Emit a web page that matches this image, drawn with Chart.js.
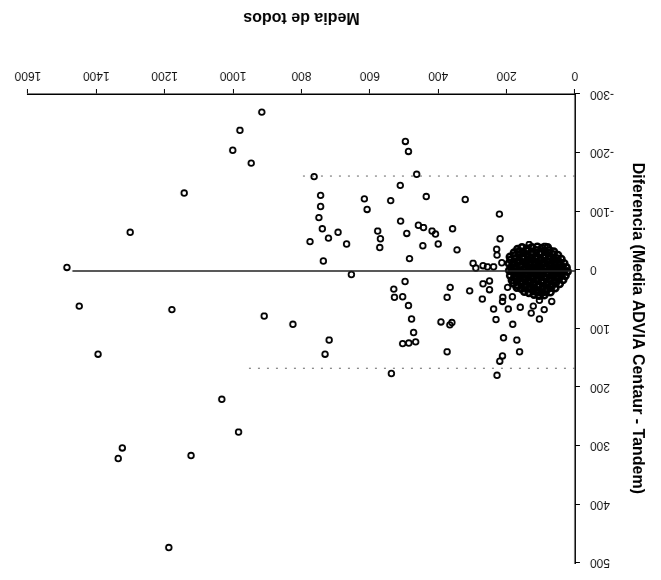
<!DOCTYPE html>
<html>
<head>
<meta charset="utf-8">
<script src="https://cdn.jsdelivr.net/npm/chart.js@4.4.1/dist/chart.umd.min.js"></script>
<style>
  body { margin: 0; background: #fff; }
  #wrap { width: 661px; height: 580px; transform: rotate(180deg); }
</style>
</head>
<body>
<div id="wrap"><canvas id="chart" width="661" height="580"></canvas></div>
<script>
// la imagen original está escaneada al revés: se dibuja normal y se gira 180°
const xTicks = [0, 200, 400, 600, 800, 1000, 1200, 1400, 1600];
const yTicks = [-300, -200, -100, 0, 100, 200, 300, 400, 500];

// puntos dispersos [media de todos, diferencia]
const puntosSueltos = [
    [916, -269], [980, -238], [1001, -204], [947, -182], [763, -159], [1143, -131],
    [744, -127], [744, -108], [749, -89], [739, -70], [721, -54], [775, -48],
    [1301, -64], [736, -15], [1486, -4], [1450, 62], [1179, 68], [909, 79],
    [825, 93], [719, 120], [731, 144], [1395, 144], [1033, 221], [984, 277],
    [1324, 304], [1336, 322], [1123, 317], [1188, 474],
    [496, -219], [487, -202], [463, -163], [511, -144], [616, -121], [435, -125],
    [539, -118], [321, -120], [608, -103], [221, -95], [510, -83], [458, -76],
    [443, -72], [693, -64], [577, -66], [569, -53], [492, -62], [418, -66],
    [408, -61], [358, -70], [219, -53], [668, -44], [571, -38], [445, -41],
    [400, -44], [345, -34], [229, -35], [228, -25], [484, -19], [298, -11],
    [290, -3], [269, -7], [256, -5], [238, -5], [214, -12], [654, 8],
    [497, 20], [530, 33], [528, 47], [504, 46], [487, 61], [478, 84],
    [392, 89], [360, 90], [366, 94], [365, 30], [374, 47], [308, 36],
    [269, 24], [250, 19], [250, 34], [271, 50], [238, 67], [231, 85],
    [197, 30], [183, 46], [195, 67], [211, 47], [212, 54], [182, 93],
    [160, 64], [128, 74], [122, 62], [104, 84], [90, 68], [68, 54],
    [104, 52], [472, 107], [504, 126], [486, 125], [466, 123], [374, 140],
    [537, 177], [209, 116], [170, 120], [162, 140], [212, 147], [220, 156],
    [228, 180], [134, -43], [88, -40]
];

// nube densa de valores bajos
const puntosNube = [
    [80, -38], [96, -37], [110, -39], [126, -38], [141, -36], [155, -38], [168, -35],
    [62, -31], [75, -33], [88, -32], [101, -30], [113, -33], [126, -31], [139, -32], [151, -30], [164, -31], [178, -29],
    [50, -25], [63, -26], [75, -24], [88, -25], [101, -27], [113, -24], [126, -26], [139, -25], [151, -23], [164, -26], [177, -24], [190, -22],
    [40, -18], [52, -19], [64, -17], [76, -18], [89, -20], [101, -17], [113, -18], [126, -19], [138, -17], [150, -18], [163, -16], [175, -19], [188, -17],
    [32, -11], [44, -12], [57, -10], [69, -11], [81, -13], [94, -10], [106, -11], [118, -12], [131, -10], [143, -11], [156, -9], [168, -12], [181, -10], [193, -11],
    [25, -4], [37, -5], [49, -3], [62, -4], [74, -6], [86, -3], [99, -4], [111, -5], [124, -3], [136, -4], [148, -2], [161, -5], [173, -3], [186, -4],
    [22, 3], [34, 2], [46, 4], [59, 3], [71, 1], [83, 4], [96, 3], [108, 2], [121, 4], [133, 3], [145, 5], [158, 2], [170, 4], [183, 3], [192, 1],
    [28, 10], [40, 9], [53, 11], [65, 10], [77, 8], [90, 11], [102, 10], [114, 9], [127, 11], [139, 10], [152, 12], [164, 9], [176, 11], [189, 10],
    [35, 17], [48, 16], [60, 18], [72, 17], [85, 15], [97, 18], [109, 17], [122, 16], [134, 18], [146, 17], [159, 19], [171, 16], [184, 18],
    [45, 24], [57, 23], [69, 25], [82, 24], [94, 22], [106, 25], [119, 24], [131, 23], [143, 25], [156, 24], [168, 26], [180, 23],
    [58, 31], [70, 30], [83, 32], [95, 31], [107, 29], [120, 32], [132, 31], [145, 30], [157, 32], [170, 30],
    [72, 38], [85, 37], [97, 39], [110, 38], [122, 36], [135, 39], [148, 37],
    [90, 43], [105, 44], [120, 42]
];

// líneas de media y límites de concordancia [x inicio, x fin, diferencia]
const lineaMedia = [0, 1470, 2];
const limiteSup = [0, 800, -160];
const limiteInf = [0, 960, 168];

const aXY = arr => arr.map(p => ({ x: p[0], y: p[1] }));
const aLinea = l => [{ x: l[0], y: l[2] }, { x: l[1], y: l[2] }];

const estiloPunto = {
    type: "scatter",
    pointRadius: 2.8,
    pointBorderWidth: 1.8,
    pointBorderColor: "#000",
    pointBackgroundColor: "rgba(0,0,0,0)",
    pointHoverRadius: 2.8
};

new Chart(document.getElementById("chart"), {
    data: {
        datasets: [
            { type: "line", data: aLinea(lineaMedia), borderColor: "#222", borderWidth: 1.5, pointRadius: 0 },
            { type: "line", data: aLinea(limiteSup), borderColor: "#666", borderWidth: 1, borderDash: [2, 7], pointRadius: 0 },
            { type: "line", data: aLinea(limiteInf), borderColor: "#666", borderWidth: 1, borderDash: [2, 7], pointRadius: 0 },
            Object.assign({ data: aXY(puntosSueltos) }, estiloPunto),
            Object.assign({}, estiloPunto, { data: aXY(puntosNube), pointRadius: 3.2, pointBorderWidth: 2.6 })
        ]
    },
    options: {
        responsive: false,
        animation: false,
        layout: { padding: { left: 0, right: 28, top: 15, bottom: 0 } },
        plugins: { legend: { display: false }, tooltip: { enabled: false } },
        scales: {
            x: {
                type: "linear",
                min: 0, max: 1600,
                afterBuildTicks: s => { s.ticks = xTicks.map(v => ({ value: v })); },
                afterFit: s => { s.height = 94; },
                grid: { drawOnChartArea: false, color: "#000", tickLength: 5 },
                border: { color: "#000", width: 1.5 },
                ticks: {
                    color: "#111", padding: 6, maxRotation: 0,
                    callback: v => String(v),
                    font: { family: "Liberation Sans", size: 12 }
                },
                title: {
                    display: true, text: "Media de todos", color: "#000",
                    padding: { top: 4, bottom: 8 },
                    font: { family: "Liberation Sans", size: 16, weight: "bold" }
                }
            },
            y: {
                type: "linear",
                min: -300, max: 500,
                afterBuildTicks: s => { s.ticks = yTicks.map(v => ({ value: v })); },
                afterFit: s => { s.width = 86; },
                grid: { drawOnChartArea: false, color: "#000", tickLength: 5 },
                border: { color: "#000", width: 1.5 },
                ticks: {
                    color: "#111", padding: 10,
                    callback: v => String(v),
                    font: { family: "Liberation Sans", size: 12 }
                },
                title: {
                    display: true, text: "Diferencia (Media ADVIA Centaur - Tandem)", color: "#000",
                    padding: { top: 14, bottom: 4 },
                    font: { family: "Liberation Sans", size: 16, weight: "bold" }
                }
            }
        }
    }
});
</script>
</body>
</html>
